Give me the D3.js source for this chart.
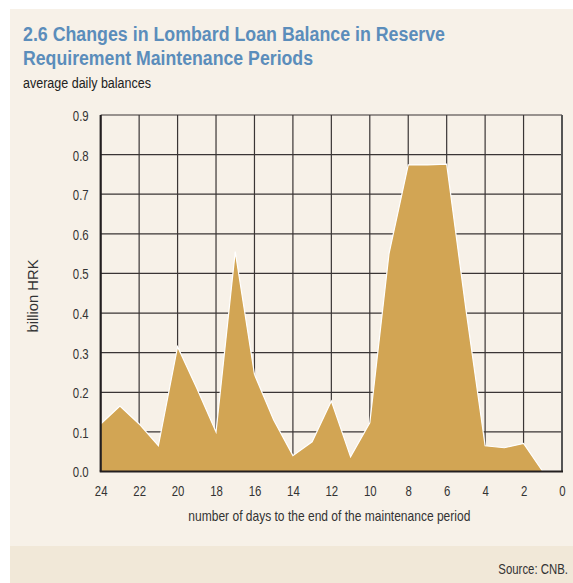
<!DOCTYPE html>
<html><head><meta charset="utf-8">
<script src="https://cdn.jsdelivr.net/npm/d3@7"></script>
<style>
html,body{margin:0;padding:0;background:#fff;}
svg{display:block;}
text{font-family:"Liberation Sans","Arial",sans-serif;}
</style></head>
<body>
<script>
const days = [24,23,22,21,20,19,18,17,16,15,14,13,12,11,10,9,8,7,6,5,4,3,2,1];
const balances = [0.12,0.165,0.12,0.065,0.315,0.21,0.10,0.555,0.245,0.13,0.04,0.075,0.178,0.037,0.123,0.55,0.774,0.774,0.776,0.41,0.065,0.06,0.071,0.0];
const xTicks = [24,22,20,18,16,14,12,10,8,6,4,2,0];
const yTicks = [0,0.1,0.2,0.3,0.4,0.5,0.6,0.7,0.8,0.9];

const W=573,H=583;
const svg=d3.select("body").append("svg").attr("width",W).attr("height",H);
svg.append("rect").attr("x",10).attr("y",9).attr("width",W-10).attr("height",H-9).attr("fill","#f7f1e8");
svg.append("rect").attr("x",10).attr("y",546).attr("width",W-10).attr("height",H-546).attr("fill","#f1e8d8");

function fit(sel,w){sel.attr("textLength",w).attr("lengthAdjust","spacingAndGlyphs");return sel;}
function squeeze(sel,f){sel.each(function(){const n=this.getComputedTextLength();d3.select(this).attr("textLength",n*f).attr("lengthAdjust","spacingAndGlyphs");});}

fit(svg.append("text").attr("x",23).attr("y",41).attr("fill","#5b8dbb").attr("font-size",19.5).attr("font-weight","bold").text("2.6 Changes in Lombard Loan Balance in Reserve"),422);
fit(svg.append("text").attr("x",23).attr("y",65).attr("fill","#5b8dbb").attr("font-size",19.5).attr("font-weight","bold").text("Requirement Maintenance Periods"),290);
fit(svg.append("text").attr("x",23).attr("y",88).attr("fill","#222").attr("font-size",15.5).text("average daily balances"),128);

const L=100.7,R=562,T=115,B=471.5;
const x=d3.scaleLinear().domain([24,0]).range([L,R]);
const y=d3.scaleLinear().domain([0,0.9]).range([B,T]);

const g=svg.append("g");
g.selectAll(".hg").data(yTicks.slice(1)).enter().append("line")
 .attr("x1",L).attr("x2",R).attr("y1",d=>y(d)).attr("y2",d=>y(d))
 .attr("stroke","#3a3535").attr("stroke-width",1.2);
g.selectAll(".vg").data(xTicks.slice(1,-1)).enter().append("line")
 .attr("x1",d=>x(d)).attr("x2",d=>x(d)).attr("y1",T).attr("y2",B)
 .attr("stroke","#3a3535").attr("stroke-width",1.2);
g.append("line").attr("x1",R).attr("x2",R).attr("y1",T).attr("y2",B).attr("stroke","#555").attr("stroke-width",2);

const data=days.map((d,i)=>({d,v:balances[i]}));
const area=d3.area().x(p=>x(p.d)).y0(y(0)).y1(p=>y(p.v));
g.append("path").datum(data).attr("d",area).attr("fill","#d2a554");
const line=d3.line().x(p=>x(p.d)).y(p=>y(p.v));
g.append("path").datum(data).attr("d",line).attr("fill","none").attr("stroke","#fff").attr("stroke-width",1.2);

g.append("line").attr("x1",L).attr("x2",L).attr("y1",T).attr("y2",B).attr("stroke","#231f20").attr("stroke-width",2.2);
g.append("line").attr("x1",L-1).attr("x2",R+1).attr("y1",B).attr("y2",B).attr("stroke","#231f20").attr("stroke-width",2.2);

const ya=svg.append("g").attr("transform",`translate(${L},0)`)
 .call(d3.axisLeft(y).tickValues(yTicks).tickFormat(d3.format(".1f")).tickSize(0).tickPadding(12));
ya.select(".domain").remove();
ya.selectAll("text").attr("font-size",15).attr("fill","#333").attr("font-family","'Liberation Sans',Arial,sans-serif").attr("dy","0.36em");
squeeze(ya.selectAll("text"),0.76);
const xa=svg.append("g").attr("transform",`translate(0,${B})`)
 .call(d3.axisBottom(x).tickValues(xTicks).tickFormat(d3.format("d")).tickSize(0).tickPadding(14));
xa.select(".domain").remove();
xa.selectAll("text").attr("font-size",15).attr("fill","#333").attr("font-family","'Liberation Sans',Arial,sans-serif");
squeeze(xa.selectAll("text"),0.76);

fit(svg.append("text").attr("x",(L+R)/2-2).attr("y",521).attr("text-anchor","middle").attr("fill","#333").attr("font-size",15).text("number of days to the end of the maintenance period"),282);
fit(svg.append("text").attr("transform","translate(38,296) rotate(-90)").attr("text-anchor","middle").attr("fill","#333").attr("font-size",14.5).text("billion HRK"),73);
svg.append("text").attr("transform","translate(568,574) scale(0.76,1)").attr("text-anchor","end").attr("fill","#333").attr("font-size",15).text("Source: CNB.");
</script>
</body></html>
